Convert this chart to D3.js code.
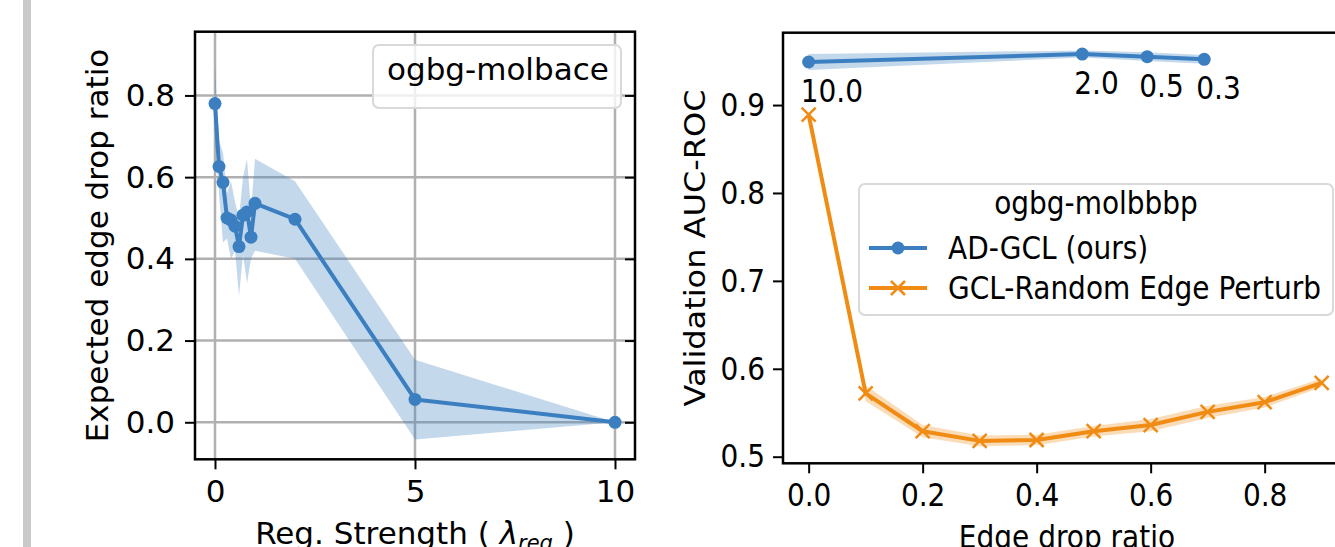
<!DOCTYPE html>
<html>
<head>
<meta charset="utf-8">
<script src="https://cdn.jsdelivr.net/npm/d3@7"></script>
<style>
  html, body { margin: 0; padding: 0; background: #fff; }
  svg { display: block; font-family: "DejaVu Sans", sans-serif; }
</style>
</head>
<body>
<svg id="chart" width="1335" height="547"></svg>
<script>
// ---------------- data ----------------
// Left panel: ogbg-molbace, expected edge drop ratio vs regularization strength
const regStrength = [0, 0.1, 0.2, 0.3, 0.4, 0.5, 0.6, 0.7, 0.8, 0.9, 1.0, 2.0, 5.0, 10.0];
const dropMean    = [0.78, 0.626, 0.587, 0.50, 0.495, 0.48, 0.43, 0.507, 0.515, 0.453, 0.536, 0.497, 0.056, 0.0];
const dropUpper   = [0.87, 0.69, 0.66, 0.56, 0.59, 0.54, 0.50, 0.60, 0.645, 0.52, 0.645, 0.59, 0.153, 0.0];
const dropLower   = [0.69, 0.56, 0.44, 0.45, 0.40, 0.42, 0.31, 0.41, 0.34, 0.40, 0.42, 0.40, -0.042, 0.0];
const leftXTicks  = [0, 5, 10];
const leftYTicks  = [0.0, 0.2, 0.4, 0.6, 0.8];
const leftLegend  = "ogbg-molbace";

// Right panel: ogbg-molbbbp, validation AUC-ROC vs edge drop ratio
const adgclX      = [0.0, 0.48, 0.594, 0.694];
const adgclY      = [0.949, 0.958, 0.955, 0.952];
const adgclErr    = [0.009, 0.004, 0.005, 0.005];
const adgclLabels = ["10.0", "2.0", "0.5", "0.3"];
const randX       = [0.0, 0.1, 0.2, 0.3, 0.4, 0.5, 0.6, 0.7, 0.8, 0.9];
const randY       = [0.889, 0.572, 0.529, 0.518, 0.519, 0.529, 0.536, 0.551, 0.562, 0.584];
const randErr     = [0.004, 0.009, 0.007, 0.006, 0.006, 0.006, 0.007, 0.007, 0.006, 0.005];
const rightXTicks = [0.0, 0.2, 0.4, 0.6, 0.8];
const rightYTicks = [0.5, 0.6, 0.7, 0.8, 0.9];
const legendTitle = "ogbg-molbbbp";
const seriesNames = ["AD-GCL (ours)", "GCL-Random Edge Perturb"];

// ---------------- style ----------------
const FS = 31;          // left panel font size
const FSR = 32;         // right panel font size (horizontally condensed)
const SQ = 0.875;       // horizontal condensation of right panel text
const BLUE = "#3b7fc0";
const ORANGE = "#f08c14";
const GRID = "#b0b0b0";

const svg = d3.select("#chart");

// grey bar at the far left
svg.append("rect").attr("x", 23).attr("y", 0).attr("width", 8).attr("height", 547).attr("fill", "#c9c9c9");

function styleAxis(g, fs) {
  g.selectAll(".domain").remove();
  g.selectAll(".tick line").attr("stroke", "#000").attr("stroke-width", 2);
  g.selectAll(".tick text").attr("fill", "#000").style("font-size", fs + "px").style("font-family", "DejaVu Sans");
}
function squash(sel) {
  sel.each(function () {
    const t = d3.select(this);
    const x = +(t.attr("x") || 0), y = +(t.attr("y") || 0);
    t.attr("transform", `translate(${x},${y}) scale(${SQ},1) translate(${-x},${-y})`);
  });
}

// ================= LEFT PANEL =================
const L = { x0: 195, x1: 635, y0: 31.7, y1: 459.3 };
const xL = d3.scaleLinear().domain([-0.5, 10.5]).range([L.x0, L.x1]);
const yL = d3.scaleLinear().domain([-0.0906, 0.956]).range([L.y1, L.y0]);

const gl = svg.append("g");
gl.selectAll(".vg").data(leftXTicks).enter().append("line")
  .attr("x1", d => xL(d)).attr("x2", d => xL(d)).attr("y1", L.y0).attr("y2", L.y1)
  .attr("stroke", GRID).attr("stroke-width", 2.5);
gl.selectAll(".hg").data(leftYTicks).enter().append("line")
  .attr("x1", L.x0).attr("x2", L.x1).attr("y1", d => yL(d)).attr("y2", d => yL(d))
  .attr("stroke", GRID).attr("stroke-width", 2.5);

const leftData = regStrength.map((x, i) => ({ x, m: dropMean[i], lo: dropLower[i], hi: dropUpper[i] }));
gl.append("path").datum(leftData)
  .attr("d", d3.area().x(d => xL(d.x)).y0(d => yL(d.lo)).y1(d => yL(d.hi)))
  .attr("fill", BLUE).attr("fill-opacity", 0.3);
gl.append("path").datum(leftData)
  .attr("d", d3.line().x(d => xL(d.x)).y(d => yL(d.m)))
  .attr("fill", "none").attr("stroke", BLUE).attr("stroke-width", 4).attr("stroke-linejoin", "round");
gl.selectAll(".pt").data(leftData).enter().append("circle")
  .attr("cx", d => xL(d.x)).attr("cy", d => yL(d.m)).attr("r", 6.5).attr("fill", BLUE);

svg.append("g").attr("transform", `translate(${L.x0},0)`)
  .call(d3.axisLeft(yL).tickValues(leftYTicks).tickFormat(d3.format(".1f")).tickSize(10).tickPadding(10))
  .call(g => styleAxis(g, FS));
svg.append("g").attr("transform", `translate(0,${L.y1})`)
  .call(d3.axisBottom(xL).tickValues(leftXTicks).tickFormat(d3.format("d")).tickSize(10).tickPadding(11))
  .call(g => styleAxis(g, FS));
svg.append("g").attr("transform", `translate(${L.x1},0)`)
  .call(d3.axisRight(yL).tickValues(leftYTicks).tickSize(-10).tickFormat(""))
  .call(g => styleAxis(g, FS));
svg.append("rect").attr("x", L.x0).attr("y", L.y0).attr("width", L.x1 - L.x0).attr("height", L.y1 - L.y0)
  .attr("fill", "none").attr("stroke", "#000").attr("stroke-width", 2.5);

// legend (title only)
svg.append("rect").attr("x", 373).attr("y", 45).attr("width", 248).attr("height", 63).attr("rx", 6)
  .attr("fill", "#fff").attr("fill-opacity", 0.8).attr("stroke", "#d9d9d9").attr("stroke-width", 2);
svg.append("text").attr("x", 387).attr("y", 80).style("font-size", FS + "px").text(leftLegend);

// labels
svg.append("text").attr("transform", `translate(108,${(L.y0 + L.y1) / 2}) rotate(-90)`)
  .attr("text-anchor", "middle").style("font-size", FS + "px").text("Expected edge drop ratio");
const xlab = svg.append("text").attr("x", (L.x0 + L.x1) / 2).attr("y", 544)
  .attr("text-anchor", "middle").style("font-size", FS + "px");
xlab.append("tspan").text("Reg. Strength ( ");
xlab.append("tspan").attr("font-style", "italic").text("λ");
xlab.append("tspan").attr("font-style", "italic").style("font-size", "21px").attr("dy", 6).text("reg");
xlab.append("tspan").attr("dy", -6).text(" )");

// ================= RIGHT PANEL =================
const R = { x0: 783, x1: 1347.3, y0: 32.7, y1: 463.3 };
const xR = d3.scaleLinear().domain([-0.045, 0.945]).range([R.x0, R.x1]);
const yR = d3.scaleLinear().domain([0.4925, 0.9823]).range([R.y1, R.y0]);

const gr = svg.append("g");
const blueData = adgclX.map((x, i) => ({ x, m: adgclY[i], e: adgclErr[i], label: adgclLabels[i] }));
const orangeData = randX.map((x, i) => ({ x, m: randY[i], e: randErr[i] }));

gr.append("path").datum(blueData)
  .attr("d", d3.area().x(d => xR(d.x)).y0(d => yR(d.m - d.e)).y1(d => yR(d.m + d.e)))
  .attr("fill", BLUE).attr("fill-opacity", 0.3);
gr.append("path").datum(orangeData)
  .attr("d", d3.area().x(d => xR(d.x)).y0(d => yR(d.m - d.e)).y1(d => yR(d.m + d.e)))
  .attr("fill", ORANGE).attr("fill-opacity", 0.3);

gr.append("path").datum(blueData)
  .attr("d", d3.line().x(d => xR(d.x)).y(d => yR(d.m)))
  .attr("fill", "none").attr("stroke", BLUE).attr("stroke-width", 4).attr("stroke-linejoin", "round");
gr.selectAll(".bp").data(blueData).enter().append("circle")
  .attr("cx", d => xR(d.x)).attr("cy", d => yR(d.m)).attr("r", 6.5).attr("fill", BLUE);

gr.append("path").datum(orangeData)
  .attr("d", d3.line().x(d => xR(d.x)).y(d => yR(d.m)))
  .attr("fill", "none").attr("stroke", ORANGE).attr("stroke-width", 4).attr("stroke-linejoin", "round");
const xMark = (cx, cy, s) => `M${cx - s},${cy - s}L${cx + s},${cy + s}M${cx - s},${cy + s}L${cx + s},${cy - s}`;
gr.selectAll(".op").data(orangeData).enter().append("path")
  .attr("d", d => xMark(xR(d.x), yR(d.m), 7))
  .attr("stroke", ORANGE).attr("stroke-width", 2.5).attr("fill", "none");

// point annotations (reg strength values)
gr.selectAll(".al").data(blueData).enter().append("text")
  .attr("x", d => xR(d.x) - 8).attr("y", d => yR(d.m) + 40)
  .style("font-size", FSR + "px").text(d => d.label)
  .call(squash);

svg.append("g").attr("transform", `translate(${R.x0},0)`)
  .call(d3.axisLeft(yR).tickValues(rightYTicks).tickFormat(d3.format(".1f")).tickSize(10).tickPadding(8))
  .call(g => styleAxis(g, FSR))
  .call(g => g.selectAll(".tick text").call(squash));
svg.append("g").attr("transform", `translate(0,${R.y1})`)
  .call(d3.axisBottom(xR).tickValues(rightXTicks).tickFormat(d3.format(".1f")).tickSize(10).tickPadding(10))
  .call(g => styleAxis(g, FSR))
  .call(g => g.selectAll(".tick text").call(squash));
svg.append("rect").attr("x", R.x0).attr("y", R.y0).attr("width", R.x1 - R.x0).attr("height", R.y1 - R.y0)
  .attr("fill", "none").attr("stroke", "#000").attr("stroke-width", 2.5);

// legend
const lg = svg.append("g");
lg.append("rect").attr("x", 859).attr("y", 184).attr("width", 474).attr("height", 131).attr("rx", 6)
  .attr("fill", "#fff").attr("fill-opacity", 0.8).attr("stroke", "#d9d9d9").attr("stroke-width", 2);
lg.append("text").attr("x", 1096).attr("y", 214).attr("text-anchor", "middle")
  .style("font-size", FSR + "px").text(legendTitle).call(squash);
const entries = [{ name: seriesNames[0], color: BLUE, mark: "o" }, { name: seriesNames[1], color: ORANGE, mark: "x" }];
entries.forEach((e, i) => {
  const cy = 248 + i * 40;
  lg.append("line").attr("x1", 869).attr("x2", 927).attr("y1", cy).attr("y2", cy)
    .attr("stroke", e.color).attr("stroke-width", 4);
  if (e.mark === "o") {
    lg.append("circle").attr("cx", 898).attr("cy", cy).attr("r", 6.5).attr("fill", e.color);
  } else {
    lg.append("path").attr("d", xMark(898, cy, 7)).attr("stroke", e.color).attr("stroke-width", 2.5);
  }
  lg.append("text").attr("x", 948).attr("y", cy + 11).style("font-size", FSR + "px").text(e.name).call(squash);
});

// labels
svg.append("text").attr("transform", `translate(705,${(R.y0 + R.y1) / 2}) scale(${SQ},1) rotate(-90)`)
  .attr("text-anchor", "middle").style("font-size", FSR + "px").text("Validation AUC-ROC");
svg.append("text").attr("x", 1067).attr("y", 548)
  .attr("text-anchor", "middle").style("font-size", FSR + "px").text("Edge drop ratio").call(squash);
</script>
</body>
</html>
